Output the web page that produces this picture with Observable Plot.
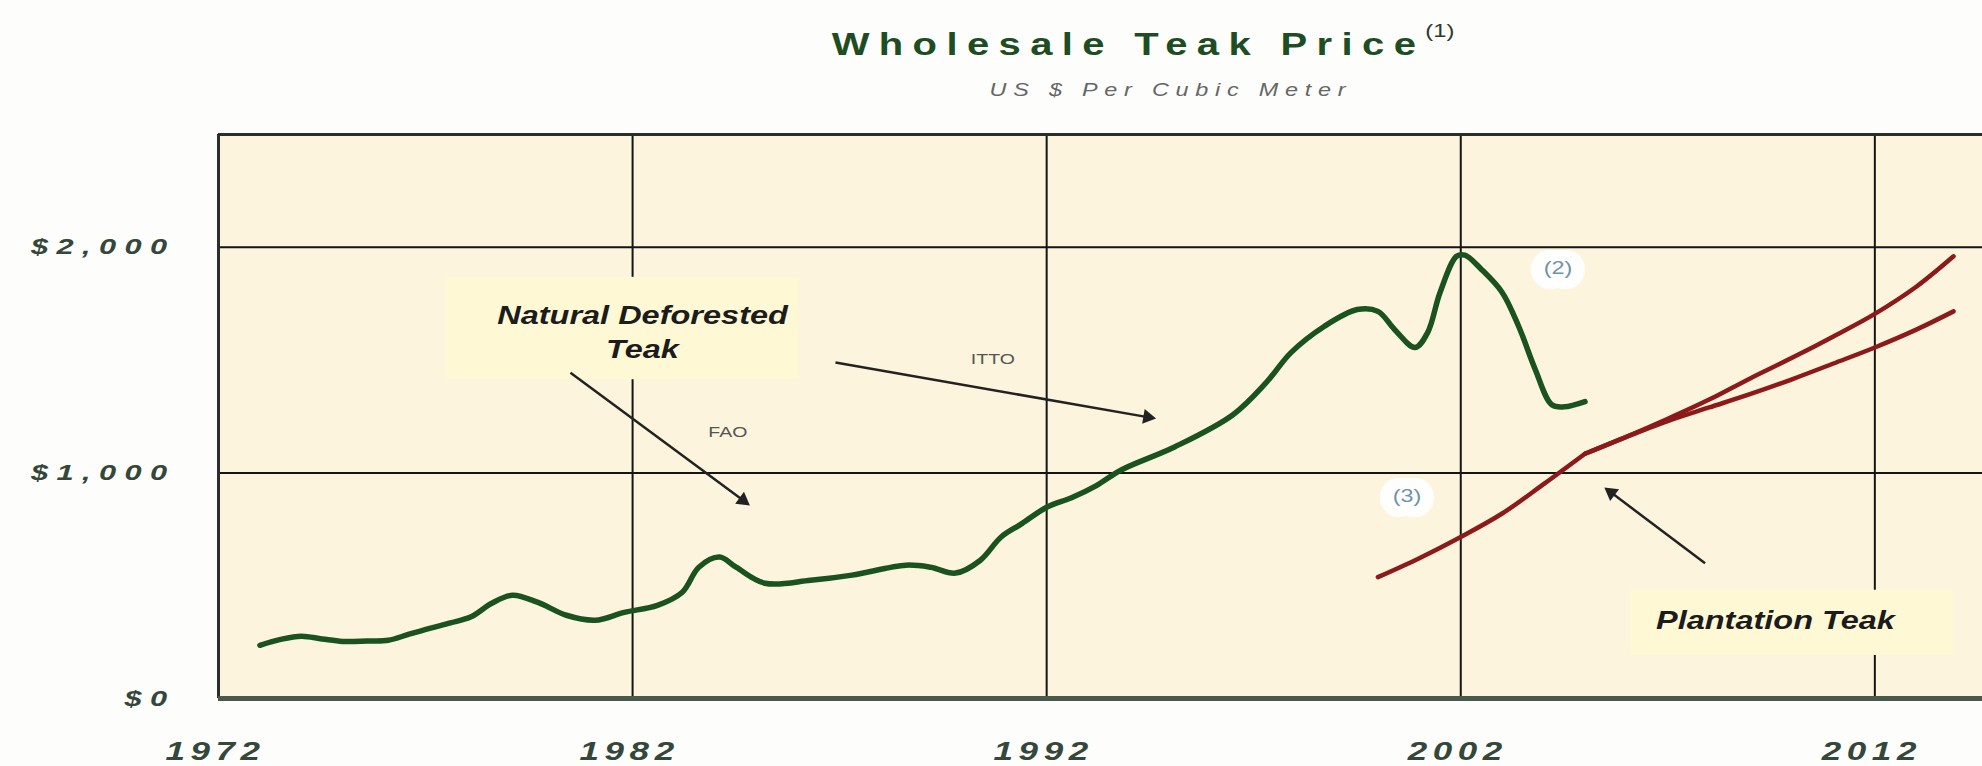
<!DOCTYPE html>
<html>
<head>
<meta charset="utf-8">
<script src="https://cdn.jsdelivr.net/npm/d3@7"></script>
<script src="https://cdn.jsdelivr.net/npm/@observablehq/plot@0.6"></script>
<style>
  html, body { margin: 0; padding: 0; }
  body { width: 1982px; height: 766px; overflow: hidden; position: relative; background: #fdfdfb; font-family: "Liberation Sans", Arial, sans-serif; }
  #title { position: absolute; left: 1143px; top: 25px; transform: translateX(-50%) scaleX(1.25); white-space: nowrap;
           font-weight: bold; font-size: 32px; line-height: 38px; letter-spacing: 7.5px; color: #1e4d24; }
  #title sup { font-weight: normal; font-size: 19px; letter-spacing: 0; color: #2e3a2e; position: relative; top: -6px; vertical-align: super; line-height: 0; }
  #subtitle { position: absolute; left: 1171px; top: 80px; transform: translateX(-50%) scaleX(1.3); white-space: nowrap;
              font-style: italic; font-size: 18px; letter-spacing: 5.2px; color: #666; }
  #chart { position: absolute; left: 0; top: 110px; }
  #chart g[aria-label="x-axis tick label"] text { letter-spacing: 4px; }
  #chart g[aria-label="y-axis tick label"] text { letter-spacing: 6px; }
</style>
</head>
<body>
<div id="title">Wholesale Teak Price<sup>(1)</sup></div>
<div id="subtitle">US $ Per Cubic Meter</div>
<div id="chart"></div>
<script>
// ---- Data ----
const naturalYears  = [1973.0, 1973.5, 1974.0, 1974.5, 1975.0, 1975.6, 1976.1, 1976.6, 1977.1, 1977.6, 1978.1, 1978.6, 1979.1, 1979.7, 1980.4, 1981.1, 1981.8, 1982.6, 1983.2, 1983.6, 1984.1, 1984.5, 1985.2, 1986.3, 1987.3, 1988.6, 1989.2, 1989.8, 1990.4, 1990.9, 1991.4, 1992.0, 1992.6, 1993.2, 1993.8, 1995.1, 1996.5, 1997.3, 1997.9, 1998.7, 1999.5, 2000.0, 2000.4, 2000.9, 2001.2, 2001.5, 2001.9, 2002.1, 2002.5, 2003.0, 2003.4, 2003.8, 2004.2, 2004.5, 2005.0];
const naturalPrices = [236, 262, 276, 264, 253, 255, 258, 285, 311, 335, 362, 422, 458, 427, 369, 347, 382, 413, 471, 582, 627, 582, 511, 524, 547, 591, 582, 556, 613, 716, 775, 848, 890, 944, 1013, 1116, 1258, 1400, 1533, 1649, 1724, 1716, 1636, 1556, 1622, 1800, 1960, 1965, 1902, 1800, 1649, 1458, 1302, 1293, 1316];

const plantationYears  = [2000, 2001, 2002, 2003, 2004, 2005];
const plantationPrices = [538, 622, 716, 820, 950, 1085];
const projectionYears  = [2005, 2006, 2007, 2008, 2009, 2010, 2011, 2012, 2013, 2013.9];
const projectionHigh   = [1085, 1160, 1240, 1325, 1420, 1510, 1605, 1705, 1825, 1960];
const projectionLow    = [1085, 1160, 1230, 1290, 1350, 1415, 1485, 1556, 1635, 1716];

const xTicks = [1972, 1982, 1992, 2002, 2012];
const xGrid = [1982, 1992, 2002, 2012];
const yTicks = [0, 1000, 2000];
const yTickLabels = ["$0", "$1,000", "$2,000"];
const yGrid = [1000, 2000];

const seriesLabels = ["Natural Deforested\nTeak", "Plantation Teak"];
const seriesLabelX = [1982.24, 2009.6];
const seriesLabelY = [1633, 358];
const boxX1 = [1977.5, 2006.1];
const boxX2 = [1986.0, 2013.9];
const boxY1 = [1413, 191];
const boxY2 = [1867, 480];

const sourceLabels = ["FAO", "ITTO"];
const sourceX = [1984.3, 1990.7];
const sourceY = [1182, 1502];

const noteLabels = ["(2)", "(3)"];
const noteX = [2004.35, 2000.7];
const noteY = [1905, 898];

const arrowX1 = [1980.5, 1986.9, 2007.9];
const arrowY1 = [1444, 1489, 600];
const arrowX2 = [1984.75, 1994.54, 2005.55];
const arrowY2 = [867, 1244, 924];

// ---- Layout ----
const W = 1982, H = 656, mT = 24, mB = 68, mL = 218, mR = 0;
const xDomain = [1972, 2014.6], yDomain = [0, 2500];
const kx = (W - mL - mR) / (xDomain[1] - xDomain[0]);
const ky = (H - mT - mB) / (yDomain[1] - yDomain[0]);
const headR = 5.5, headTip = 2 * Math.sqrt(Math.PI * headR * headR / (3 * Math.sqrt(3)));

// ---- Tables built from the arrays ----
const lines = [
  ...naturalYears.map((y, i) => ({series: "natural", year: y, price: naturalPrices[i]})),
  ...plantationYears.map((y, i) => ({series: "plantation", year: y, price: plantationPrices[i]})),
  ...projectionYears.map((y, i) => ({series: "high", year: y, price: projectionHigh[i]})),
  ...projectionYears.map((y, i) => ({series: "low", year: y, price: projectionLow[i]}))
];
const natural = lines.filter(d => d.series === "natural");
const red = lines.filter(d => d.series !== "natural");
const boxes = boxX1.map((x, i) => ({x1: x, x2: boxX2[i], y1: boxY1[i], y2: boxY2[i]}));
const seriesText = seriesLabels.map((t, i) => ({t, x: seriesLabelX[i], y: seriesLabelY[i]}));
const sourceText = sourceLabels.map((t, i) => ({t, x: sourceX[i], y: sourceY[i]}));
const noteText = noteLabels.map((t, i) => ({t, x: noteX[i], y: noteY[i]}));
const arrows = arrowX1.map((x, i) => {
  const a = {x1: x, y1: arrowY1[i], x2: arrowX2[i], y2: arrowY2[i]};
  const sx = (a.x2 - a.x1) * kx, sy = -(a.y2 - a.y1) * ky, len = Math.hypot(sx, sy);
  a.rotate = Math.atan2(sx, -sy) * 180 / Math.PI;
  a.hx = a.x2 - (sx / len) * (headTip / 2) / kx;
  a.hy = a.y2 + (sy / len) * (headTip / 2) / ky;
  return a;
});

const bg = "#fcf4dc";
const chart = Plot.plot({
  width: W,
  height: H,
  marginTop: mT,
  marginBottom: mB,
  marginLeft: mL,
  marginRight: mR,
  style: {background: "transparent", fontFamily: "Liberation Sans, Arial, sans-serif"},
  x: {domain: xDomain},
  y: {domain: yDomain},
  marks: [
    Plot.frame({fill: bg, stroke: "none"}),
    Plot.ruleY(yGrid, {stroke: "#151515", strokeWidth: 2}),
    Plot.ruleX(xGrid, {stroke: "#151515", strokeWidth: 2}),
    Plot.ruleY([2500], {stroke: "#2a2f2a", strokeWidth: 3}),
    Plot.ruleX([1972], {stroke: "#2a2f2a", strokeWidth: 3}),
    Plot.rect(boxes, {x1: "x1", x2: "x2", y1: "y1", y2: "y2", fill: "#fef9d4"}),
    Plot.ruleY([0], {stroke: "#4a5a4a", strokeWidth: 5}),
    Plot.line(natural, {x: "year", y: "price", stroke: "#1b5320", strokeWidth: 5.5, curve: "catmull-rom", strokeLinecap: "round"}),
    Plot.line(red, {x: "year", y: "price", z: "series", stroke: "#8c1a1a", strokeWidth: 4.5, curve: "catmull-rom", strokeLinecap: "round"}),
    Plot.link(arrows, {x1: "x1", y1: "y1", x2: "hx", y2: "hy", stroke: "#222", strokeWidth: 2.5}),
    Plot.dot(arrows, {x: "hx", y: "hy", symbol: "triangle", r: headR, fill: "#222", stroke: "none", rotate: "rotate"}),
    Plot.text(seriesText, {x: "x", y: "y", text: "t", fontSize: 25, fontWeight: "bold", fontStyle: "italic", fill: "#1c1c1c", lineHeight: 1.35}),
    Plot.text(sourceText, {x: "x", y: "y", text: "t", fontSize: 15, fill: "#555"}),
    Plot.text(noteText, {x: "x", y: "y", text: "t", fontSize: 18, fill: "#6f94a9", stroke: "white", strokeWidth: 22, strokeOpacity: 0.95}),
    Plot.axisX({ticks: xTicks, tickSize: 0, tickPadding: 44, dx: -3, label: null, tickFormat: d => String(d),
                fontSize: 25, fontWeight: "bold", fontStyle: "italic", fill: "#34473a"}),
    Plot.axisY({ticks: yTicks, tickSize: 0, tickPadding: 43, label: null, tickFormat: d => yTickLabels[yTicks.indexOf(d)],
                fontSize: 22, fontWeight: "bold", fontStyle: "italic", fill: "#34473a"})
  ]
});

// Horizontally stretch text glyphs, as in the (wide) reference lettering
const stretch = (selector, k) => chart.querySelectorAll(selector).forEach(t => {
  const tr = t.getAttribute("transform") || "";
  const x = t.getAttribute("x");
  if (x && !isNaN(+x) && +x !== 0) t.setAttribute("x", +x / k);
  t.setAttribute("transform", (tr + ` scale(${k},1)`).trim());
});
stretch('g[aria-label="x-axis tick label"] text, g[aria-label="y-axis tick label"] text', 1.4);
stretch('g[aria-label="text"] text', 1.3);

document.getElementById("chart").appendChild(chart);
</script>
</body>
</html>
